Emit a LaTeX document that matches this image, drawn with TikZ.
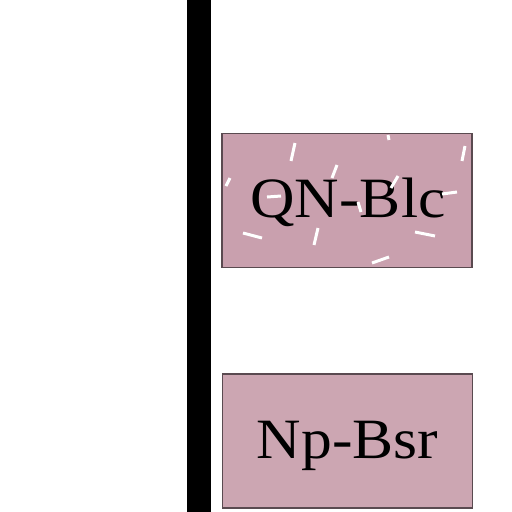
\documentclass[tikz,border=0pt]{standalone}
\usepackage{fontspec}
\setmainfont{Liberation Serif}
\definecolor{boxpink}{HTML}{C9A0AE}
\definecolor{boxpinkb}{HTML}{CCA6B2}
\definecolor{boxedge}{HTML}{5A4A50}
\begin{document}
\begin{tikzpicture}[x=1pt,y=-1pt,
  pinkbox/.style={draw=boxedge,line width=1.6pt},
  lbl/.style={font=\fontsize{57}{60}\selectfont,text=black,inner sep=0pt,anchor=base,xscale=1.08},
  fleck/.style={white,line width=3pt}]
\useasboundingbox (0,0) rectangle (512,512);
\fill[white] (0,0) rectangle (512,512);
% black bar
\fill[black] (187,0) rectangle (210.5,512);
% box 1
\node[pinkbox,fill=boxpink,minimum width=250pt,minimum height=134pt,inner sep=0pt] (qn) at (347,200.5) {};
\draw[fleck] (295,143) -- (291,161);
\draw[fleck] (230,178) -- (226,186);
\draw[fleck] (337,165) -- (332,178);
\draw[fleck] (243,233) -- (262,238);
\draw[fleck] (318,228) -- (314,245);
\draw[fleck] (388,135) -- (389,140);
\draw[fleck] (465,146) -- (462,161);
\draw[fleck] (415,232) -- (435,236);
\draw[fleck] (372,263) -- (389,257);
\node[lbl] (qnt) at (348,217) {QN-Blc};
\draw[fleck] (267,197) -- (281,196);
\draw[fleck] (442,194) -- (457,192);
\draw[fleck] (398,176) -- (391,188);
\draw[fleck] (358,202) -- (361,212);
% box 2
\node[pinkbox,fill=boxpinkb,minimum width=250pt,minimum height=134pt,inner sep=0pt] (np) at (347.5,441) {};
\node[lbl] (npt) at (347.5,458) {Np-Bsr};
\end{tikzpicture}
\end{document}
